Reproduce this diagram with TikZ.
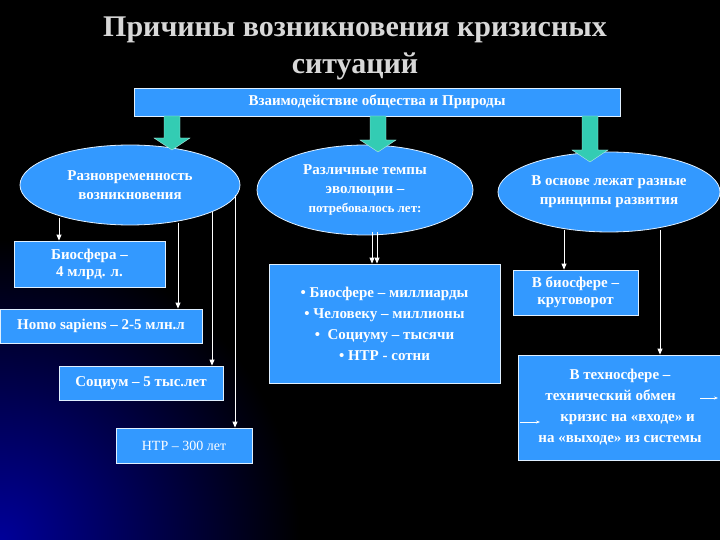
\documentclass[tikz,border=0pt]{standalone}
\usepackage{fontspec}
\setmainfont{Liberation Serif}
\usetikzlibrary{shapes.geometric,arrows.meta}
\definecolor{bx}{HTML}{3399FF}
\definecolor{tl}{HTML}{33CCB3}
\definecolor{tt}{HTML}{D8D8D8}
\begin{document}
\begin{tikzpicture}[x=1pt,y=-1pt,
  bx/.style={draw=white!85!bx,line width=0.8pt,fill=bx,text=white,font=\bfseries\fontsize{15}{17}\selectfont,align=center,inner sep=0pt},
  el/.style={ellipse,draw=white!85!bx,line width=0.8pt,fill=bx,text=white,font=\bfseries\fontsize{15}{19}\selectfont,align=center,inner sep=0pt},
  thin/.style={white,line width=0.8pt,-{Triangle[width=5pt,length=6pt]}},
  big/.style={fill=tl,draw=white!70!tl,line width=0.4pt}]
\useasboundingbox (0,0) rectangle (720,540);
\fill[black] (0,0) rectangle (720,540);
\begin{scope}
\clip (0,0) rectangle (720,540);
\shade[inner color=blue!60!black,outer color=black] (0,540) circle[radius=300];
\end{scope}
\node[text=tt,font=\bfseries\fontsize{30}{37}\selectfont,align=center] (title) at (355,48) {Причины возникновения кризисных\\ситуаций};
\node[bx,minimum width=486,minimum height=28] (top) at (377,102) {Взаимодействие общества и Природы};
\node[el,minimum width=220,minimum height=80] (e1) at (130,185) {Разновременность\\возникновения};
\node[el,minimum width=216,minimum height=90] (e2) at (365,190) {Различные темпы\\эволюции –\\{\fontsize{13}{15}\selectfont потребовалось лет:}};
\node[el,minimum width=222,minimum height=80] (e3) at (609,192) {В основе лежат разные\\принципы развития};
\foreach \x/\y in {172/150,378/152,590/162}{
  \draw[big] (\x-8,116) -- (\x+8,116) -- (\x+8,\y-12) -- (\x+18,\y-12) -- (\x,\y) -- (\x-18,\y-12) -- (\x-8,\y-12) -- cycle;}
\node[bx,minimum width=151,minimum height=46] (b1) at (89.5,264) {Биосфера –\\4 млрд. л.};
\node[bx,minimum width=202,minimum height=34] (b2) at (101,326) {Homo sapiens – 2-5 млн.л};
\node[bx,minimum width=164,minimum height=34] (b3) at (141,383) {Социум – 5 тыс.лет};
\node[bx,minimum width=136,minimum height=35,font=\fontsize{14}{16}\selectfont] (b4) at (184,445.5) {НТР – 300 лет};
\node[bx,minimum width=231,minimum height=119,font=\bfseries\fontsize{15}{21}\selectfont] (b5) at (384.5,323.5) {• Биосфере – миллиарды\\• Человеку – миллионы\\• \ Социуму – тысячи\\• НТР - сотни};
\node[bx,minimum width=125,minimum height=45] (b6) at (575.5,292.5) {В биосфере –\\круговорот};
\node[bx,minimum width=204,minimum height=105,font=\bfseries\fontsize{15}{21}\selectfont] (b7) at (620,407.5) {В техносфере –\\технический обмен \phantom{→}\\\phantom{→}кризис на «входе» и\\на «выходе» из системы};
\draw[thin] (59,218) -- (b1.north -| 59,0);
\draw[thin] (178,223) -- (b2.north -| 178,0);
\draw[thin] (212,212) -- (b3.north -| 212,0);
\draw[thin] (235,195) -- (b4.north -| 235,0);
\draw[thin] (372,232) -- (b5.north -| 372,0);
\draw[thin] (377,232) -- (b5.north -| 377,0);
\draw[thin] (564,230) -- (b6.north -| 564,0);
\draw[thin] (660,230) -- (b7.north -| 660,0);
\coordinate (a1) at (700,398); \coordinate (a2) at (718,398);
\coordinate (a3) at (520,422); \coordinate (a4) at (540,422);
\draw[white,line width=0.6pt,-{Stealth[length=4pt]}] (a1) -- (a2);
\draw[white,line width=0.6pt,-{Stealth[length=4pt]}] (a3) -- (a4);
\end{tikzpicture}
\end{document}
